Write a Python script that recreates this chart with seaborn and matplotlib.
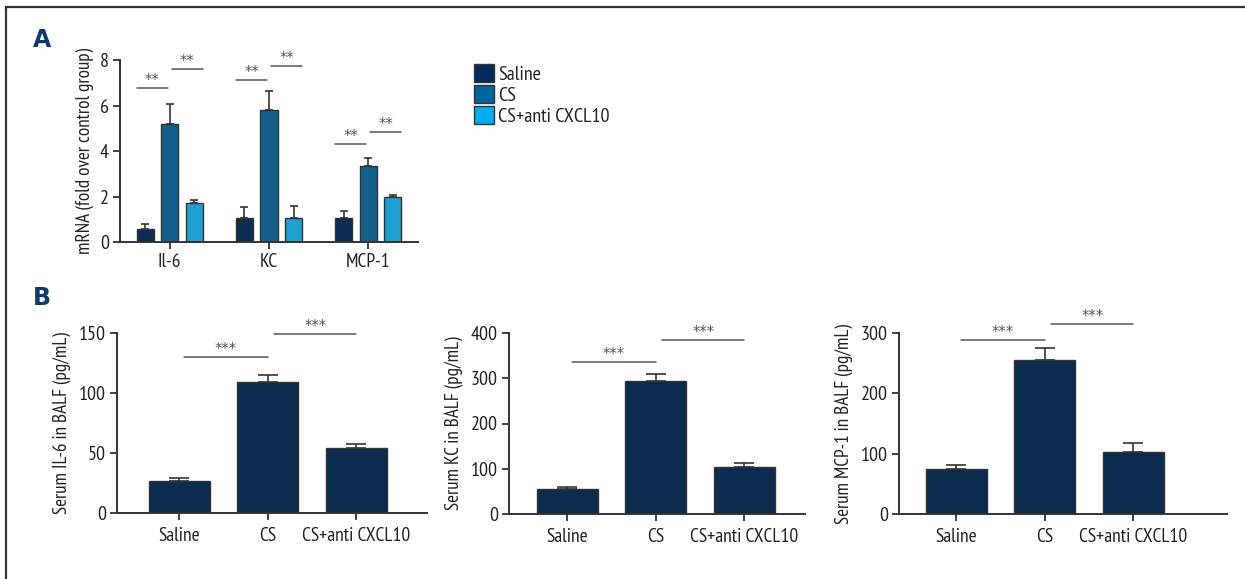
import numpy as np
import pandas as pd
import matplotlib
matplotlib.use("Agg")
import matplotlib.pyplot as plt
import seaborn as sns
from matplotlib.lines import Line2D

# dados painel A (mRNA)
genes = ["Il-6", "KC", "MCP-1"]
grupos = ["Saline", "CS", "CS+anti CXCL10"]
mrna_saline = [0.56, 1.06, 1.07]
mrna_cs = [5.17, 5.79, 3.33]
mrna_anti = [1.70, 1.04, 2.00]
mrna_err_saline = [0.24, 0.47, 0.31]
mrna_err_cs = [0.88, 0.85, 0.37]
mrna_err_anti = [0.13, 0.55, 0.07]

# dados painel B (BALF)
il6_vals = [26.4, 109.2, 53.9]
il6_err = [2.6, 5.4, 3.6]
kc_vals = [54.4, 293.4, 104.4]
kc_err = [4.4, 17.0, 8.1]
mcp1_vals = [73.9, 255.9, 103.5]
mcp1_err = [7.2, 18.8, 13.4]

cores_a = ["#022b5c", "#00659c", "#00aeef"]
cor_b = "#022a5a"
cinza = "#555555"
eixo = "#333333"

sns.set_style("white")
plt.rcParams["font.family"] = ["PT Sans Narrow", "Roboto Condensed", "DejaVu Sans"]
plt.rcParams["axes.edgecolor"] = eixo
plt.rcParams["axes.linewidth"] = 1.4
plt.rcParams["xtick.color"] = eixo
plt.rcParams["ytick.color"] = eixo
plt.rcParams["text.color"] = "#222222"
plt.rcParams["axes.labelcolor"] = "#222222"

W, H = 1245, 579
fig = plt.figure(figsize=(W / 100, H / 100), dpi=100)


def eixo_px(x0, y_top, x1, y_bot):
    return fig.add_axes([x0 / W, 1 - y_bot / H, (x1 - x0) / W, (y_bot - y_top) / H])


def estilo(ax):
    sns.despine(ax=ax)
    ax.tick_params(axis="both", direction="out", length=5, width=1.3,
                   labelsize=14, bottom=True, left=True, pad=3,
                   labelcolor="#222222")
    ax.tick_params(axis="y", labelsize=14.5)


def sig(ax, x0, x1, y, txt):
    ax.plot([x0, x1], [y, y], color=cinza, lw=1.1, clip_on=False)
    ax.text((x0 + x1) / 2, y, txt, ha="center", va="bottom", color=cinza,
            fontsize=10.5, family=["DejaVu Sans"], clip_on=False)


# ---------- painel A ----------
dados_a = pd.DataFrame({
    "gene": genes * 3,
    "grupo": np.repeat(grupos, 3),
    "valor": mrna_saline + mrna_cs + mrna_anti,
})
erros_a = [mrna_err_saline, mrna_err_cs, mrna_err_anti]

ax = eixo_px(120, 60, 418, 242)
sns.barplot(data=dados_a, x="gene", y="valor", hue="grupo", hue_order=grupos,
            palette=cores_a, width=0.74, gap=0.3, errorbar=None,
            edgecolor=eixo, linewidth=1, ax=ax)
for cont, errs in zip(ax.containers, erros_a):
    xs = [p.get_x() + p.get_width() / 2 for p in cont.patches]
    ys = [p.get_height() for p in cont.patches]
    ax.errorbar(xs, ys, yerr=[np.zeros(3), errs], fmt="none", ecolor=eixo,
                elinewidth=1.2, capsize=3, capthick=1.2, zorder=1)
ax.set_ylim(0, 8)
ax.set_xlim(-0.5, 2.5)
ax.set_yticks([0, 2, 4, 6, 8])
ax.set_xlabel("")
ax.set_ylabel("mRNA (fold over control group)", fontsize=13.8, labelpad=4)
estilo(ax)
ax.legend_.remove()

sig_a = [(6.76, 7.6), (7.1, 7.75), (4.3, 4.85)]
c0 = ax.containers[0].patches
c2 = ax.containers[2].patches
for i, (y1, y2) in enumerate(sig_a):
    esq = c0[i].get_x()
    dir_ = c2[i].get_x() + c2[i].get_width()
    sig(ax, esq, i - 0.02, y1, "**")
    sig(ax, i + 0.02, dir_, y2, "**")

handles = [plt.Rectangle((0, 0), 1, 1, facecolor=c, edgecolor=eixo, lw=1) for c in cores_a]
fig.legend(handles, grupos, loc="upper left", bbox_to_anchor=(466 / W, 1 - 56 / H),
           frameon=False, fontsize=14.5, handlelength=1.0, handleheight=1.0,
           handletextpad=0.2, labelspacing=0.05, borderaxespad=0)

# ---------- painel B ----------
paineis_b = [
    (il6_vals, il6_err, "Serum IL-6 in BALF (pg/mL)", (117, 333, 427, 513), 150,
     [0, 50, 100, 150], (-0.706, 2.8), (129.7, 149.4)),
    (kc_vals, kc_err, "Serum KC in BALF (pg/mL)", (509, 333, 805, 514), 400,
     [0, 100, 200, 300, 400], (-0.66, 2.685), (336, 385)),
    (mcp1_vals, mcp1_err, "Serum MCP-1 in BALF (pg/mL)", (899, 333, 1227, 514), 300,
     [0, 100, 200, 300], (-0.65, 3.06), (288, 315.5)),
]

for vals, errs, ylab, caixa, ymax, yt, xl, (y1, y2) in paineis_b:
    ax = eixo_px(*caixa)
    df = pd.DataFrame({"grupo": grupos, "valor": vals})
    sns.barplot(data=df, x="grupo", y="valor", color=cor_b, width=0.69,
                errorbar=None, edgecolor=eixo, linewidth=1, ax=ax)
    xs = [p.get_x() + p.get_width() / 2 for p in ax.patches]
    ax.errorbar(xs, vals, yerr=[np.zeros(3), errs], fmt="none", ecolor=eixo,
                elinewidth=1.2, capsize=7.5, capthick=1.2, zorder=1)
    ax.set_ylim(0, ymax)
    ax.set_yticks(yt)
    ax.set_xlim(*xl)
    ax.set_xlabel("")
    ax.set_ylabel(ylab, fontsize=13.8, labelpad=6)
    estilo(ax)
    ax.tick_params(axis="x", pad=5)
    sig(ax, 0.05, 1.0, y1, "***")
    sig(ax, 1.07, 2.0, y2, "***")

# letras dos paineis
fig.text(33 / W, 1 - 40 / H, "A", fontsize=17, fontweight="bold", color="#0b3a6e",
         family=["DejaVu Sans"], va="center")
fig.text(33 / W, 1 - 298 / H, "B", fontsize=17, fontweight="bold", color="#0b3a6e",
         family=["DejaVu Sans"], va="center")

# moldura (topo e esquerda)
fig.add_artist(Line2D([6 / W, 1], [1 - 7 / H, 1 - 7 / H], color="#333333", lw=1.6))
fig.add_artist(Line2D([6 / W, 6 / W], [0, 1 - 7 / H], color="#333333", lw=1.6))

plt.savefig("out.png", dpi=100)
